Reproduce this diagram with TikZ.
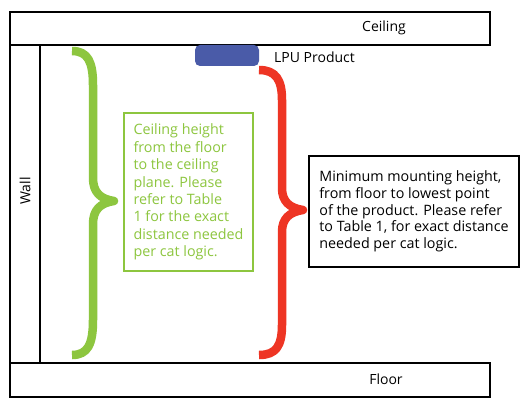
\documentclass[tikz,border=0pt]{standalone}
\usepackage{fontspec}
\setmainfont{Open Sans}
\definecolor{lgreen}{HTML}{8DC63F}
\definecolor{lred}{HTML}{EE3524}
\definecolor{lblue}{HTML}{4A5BA8}
\begin{document}
\begin{tikzpicture}[x=1pt,y=-1pt,
  frame/.style={draw=black, line width=2pt},
  lbl/.style={font=\fontsize{14}{17}\selectfont, inner sep=0pt},
  bracepath/.style={line width=8.5pt, line cap=butt, line join=round},
  textbox/.style={align=left, inner sep=0pt}]
\useasboundingbox (0,0) rectangle (527,404);
\fill[white] (0,0) rectangle (527,404);
% structure
\node[frame, anchor=north west, minimum width=480pt, minimum height=33pt, inner sep=0pt] (ceiling) at (9,11) {};
\node[frame, anchor=north west, minimum width=480pt, minimum height=34pt, inner sep=0pt] (floor) at (9,362) {};
\node[draw=black, line width=1.5pt, anchor=north west, minimum width=30pt, minimum height=318pt, inner sep=0pt] (wall) at (9,44) {};
\node[lbl] (ceilingtxt) at (384,28) {Ceiling};
\node[lbl] (floortxt) at (386,379) {Floor};
\node[lbl, rotate=90] (walltxt) at (25,191) {Wall};
% product
\node[fill=lblue, rounded corners=5pt, minimum width=64pt, minimum height=21pt, inner sep=0pt] (lpu) at (227,55.5) {};
\node[lbl, anchor=west] (lputxt) at (274,57) {LPU Product};
% braces
\draw[bracepath, lgreen] (72,51) .. controls (88,51) and (93,62) .. (93,85) -- (93,178)
  .. controls (93,192) and (100,199) .. (114,201)
  .. controls (100,203) and (93,210) .. (93,224) -- (93,320)
  .. controls (93,344) and (88,355) .. (72,355);
\draw[bracepath, lred] (259,70) .. controls (276,70) and (282,80) .. (282,100) -- (282,188)
  .. controls (282,201) and (289,208) .. (303,210)
  .. controls (289,212) and (282,219) .. (282,232) -- (282,325)
  .. controls (282,346) and (276,355) .. (259,355);
% text boxes
\node[draw=lgreen, line width=1.5pt, minimum width=129pt, minimum height=158pt, text=lgreen, textbox, font=\fontsize{14.3}{17.4}\selectfont] (greenbox) at (188.5,192)
 {Ceiling height\\from the floor\\to the ceiling\\plane. Please\\refer to Table\\1 for the exact\\distance needed\\per cat logic.};
\node[draw=black, line width=1.8pt, minimum width=210pt, minimum height=111pt, textbox, font=\fontsize{14.3}{16.7}\selectfont] (blackbox) at (414,211.5)
 {Minimum mounting height,\\from floor to lowest point\\of the product. Please refer\\to Table 1, for exact distance\\needed per cat logic.};
\end{tikzpicture}
\end{document}
